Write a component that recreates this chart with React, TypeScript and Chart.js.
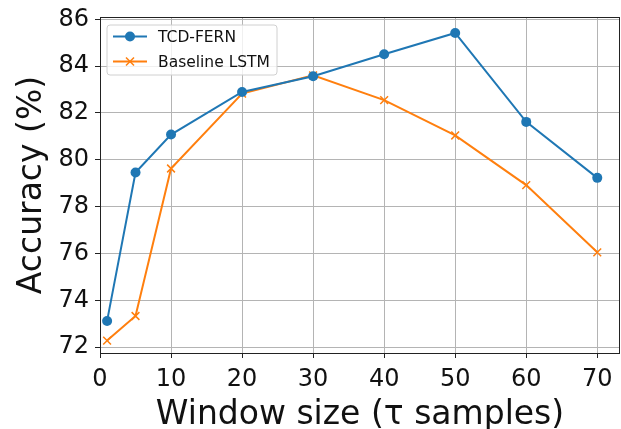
import React, { useEffect, useRef } from "react";
import { Chart, registerables } from "chart.js";

Chart.register(...registerables);

const windowSizes = [1, 5, 10, 20, 30, 40, 50, 60, 70];
const tcdFern = [73.12, 79.46, 81.08, 82.9, 83.57, 84.51, 85.42, 81.62, 79.23];
const baselineLstm = [72.28, 73.33, 79.63, 82.83, 83.61, 82.55, 81.04, 78.92, 76.05];
const seriesLabels = ["TCD-FERN", "Baseline LSTM"];
const xTitle = "Window size (\u03c4 samples)";
const yTitle = "Accuracy (%)";

const FONT = "'DejaVu Sans', sans-serif";
const BLUE = "#1f77b4";
const ORANGE = "#ff7f0e";

const framePlugin = {
  id: "frame",
  afterDraw(chart: any) {
    const { ctx, chartArea } = chart;
    ctx.save();
    ctx.strokeStyle = "#222";
    ctx.lineWidth = 1;
    ctx.strokeRect(
      Math.round(chartArea.left) + 0.5,
      Math.round(chartArea.top) + 0.5,
      Math.round(chartArea.right - chartArea.left) - 1,
      Math.round(chartArea.bottom - chartArea.top)
    );
    // legend
    const lx = chartArea.left + 7;
    const ly = chartArea.top + 8;
    const lw = 170;
    const lh = 50;
    ctx.beginPath();
    const r = 3;
    ctx.moveTo(lx + r, ly);
    ctx.arcTo(lx + lw, ly, lx + lw, ly + lh, r);
    ctx.arcTo(lx + lw, ly + lh, lx, ly + lh, r);
    ctx.arcTo(lx, ly + lh, lx, ly, r);
    ctx.arcTo(lx, ly, lx + lw, ly, r);
    ctx.closePath();
    ctx.fillStyle = "rgba(255,255,255,0.8)";
    ctx.fill();
    ctx.strokeStyle = "#d0d0d0";
    ctx.lineWidth = 1;
    ctx.stroke();
    chart.data.datasets.forEach((ds: any, i: number) => {
      const cy = ly + 11.5 + i * 25;
      ctx.strokeStyle = ds.borderColor;
      ctx.lineWidth = 2;
      ctx.beginPath();
      ctx.moveTo(lx + 6, cy);
      ctx.lineTo(lx + 40, cy);
      ctx.stroke();
      const mx = lx + 23;
      if (ds.pointStyle === "circle") {
        ctx.fillStyle = ds.borderColor;
        ctx.beginPath();
        ctx.arc(mx, cy, 5, 0, Math.PI * 2);
        ctx.fill();
      } else {
        ctx.lineWidth = 1.5;
        ctx.beginPath();
        ctx.moveTo(mx - 4, cy - 4);
        ctx.lineTo(mx + 4, cy + 4);
        ctx.moveTo(mx - 4, cy + 4);
        ctx.lineTo(mx + 4, cy - 4);
        ctx.stroke();
      }
      ctx.fillStyle = "#111";
      ctx.font = "15.5px " + FONT;
      ctx.textBaseline = "middle";
      ctx.textAlign = "left";
      ctx.fillText(ds.label, lx + 51, cy + 1);
    });
    ctx.restore();
  },
};

export default function App() {
  const ref = useRef<HTMLCanvasElement>(null);
  useEffect(() => {
    document.body.style.margin = "0";
    const chart = new Chart(ref.current as HTMLCanvasElement, {
      type: "line",
      data: {
        datasets: [
          {
            label: seriesLabels[0],
            data: windowSizes.map((x, i) => ({ x, y: tcdFern[i] })),
            borderColor: BLUE,
            backgroundColor: BLUE,
            borderWidth: 2,
            pointStyle: "circle",
            pointRadius: 5,
            pointBorderWidth: 0,
            tension: 0,
          },
          {
            label: seriesLabels[1],
            data: windowSizes.map((x, i) => ({ x, y: baselineLstm[i] })),
            borderColor: ORANGE,
            backgroundColor: ORANGE,
            borderWidth: 2,
            pointStyle: "crossRot",
            pointRadius: 5.5,
            pointBorderWidth: 1.5,
            tension: 0,
          },
        ],
      },
      options: {
        responsive: false,
        animation: false,
        layout: { autoPadding: false, padding: { top: 17, right: 1, left: 0, bottom: 0 } },
        plugins: {
          legend: { display: false },
          tooltip: { enabled: false },
        },
        scales: {
          x: {
            type: "linear",
            min: 0,
            max: 73.2,
            afterFit: (s: any) => {
              s.height = 76;
              s.paddingLeft = 0;
              s.paddingRight = 0;
            },
            ticks: {
              stepSize: 10,
              includeBounds: false,
              color: "#111",
              font: { family: FONT, size: 24 },
              padding: 7,
              maxRotation: 0,
            },
            grid: {
              color: "#b4b4b4",
              lineWidth: 1,
              tickLength: 5,
              tickColor: "#222",
            },
            border: { display: false },
            title: {
              display: true,
              text: xTitle,
              color: "#111",
              font: { family: FONT, size: 33, lineHeight: 1 },
              padding: { top: 0, bottom: -3 },
            },
          },
          y: {
            min: 71.75,
            max: 86.1,
            afterFit: (s: any) => {
              s.width = 100;
              s.paddingTop = 0;
              s.paddingBottom = 0;
            },
            ticks: {
              stepSize: 2,
              includeBounds: false,
              color: "#111",
              font: { family: FONT, size: 24 },
              padding: 6,
            },
            grid: {
              color: "#b4b4b4",
              lineWidth: 1,
              tickLength: 5,
              tickColor: "#222",
            },
            border: { display: false },
            title: {
              display: true,
              text: yTitle,
              color: "#111",
              font: { family: FONT, size: 33 },
              padding: { top: 13, bottom: 0 },
            },
          },
        },
      },
      plugins: [framePlugin],
    });
    return () => chart.destroy();
  }, []);
  return (
    <div style={{ width: 621, height: 429 }}>
      <canvas ref={ref} width={621} height={429} />
    </div>
  );
}
